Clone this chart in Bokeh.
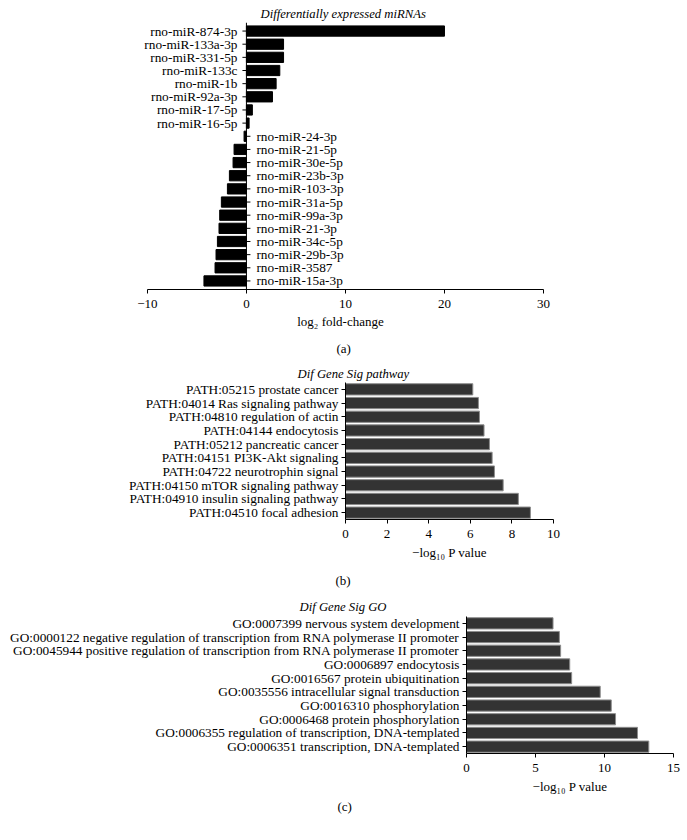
import numpy as np
from bokeh.plotting import figure
from bokeh.models import Range1d, FactorRange, FixedTicker, Span, Title
from bokeh.core.properties import value
from bokeh.embed import file_html
from bokeh.resources import INLINE

# ---------------- data ----------------
mirnas = ["rno-miR-874-3p", "rno-miR-133a-3p", "rno-miR-331-5p", "rno-miR-133c",
          "rno-miR-1b", "rno-miR-92a-3p", "rno-miR-17-5p", "rno-miR-16-5p",
          "rno-miR-24-3p", "rno-miR-21-5p", "rno-miR-30e-5p", "rno-miR-23b-3p",
          "rno-miR-103-3p", "rno-miR-31a-5p", "rno-miR-99a-3p", "rno-miR-21-3p",
          "rno-miR-34c-5p", "rno-miR-29b-3p", "rno-miR-3587", "rno-miR-15a-3p"]
fold_change = [20.0, 3.75, 3.75, 3.37, 3.0, 2.63, 0.6, 0.27,
               -0.24, -1.25, -1.35, -1.72, -1.92, -2.53, -2.7, -2.77,
               -2.93, -3.07, -3.17, -4.29]
fc_ticks = [-10, 0, 10, 20, 30]

pathways = ["PATH:05215 prostate cancer", "PATH:04014 Ras signaling pathway",
            "PATH:04810 regulation of actin", "PATH:04144 endocytosis",
            "PATH:05212 pancreatic cancer", "PATH:04151 PI3K-Akt signaling",
            "PATH:04722 neurotrophin signal", "PATH:04150 mTOR signaling pathway",
            "PATH:04910 insulin signaling pathway", "PATH:04510 focal adhesion"]
pathway_logp = [6.12, 6.39, 6.44, 6.66, 6.92, 7.05, 7.16, 7.58, 8.31, 8.89]
pathway_ticks = [0, 2, 4, 6, 8, 10]

go_terms = ["GO:0007399 nervous system development",
            "GO:0000122 negative regulation of transcription from RNA polymerase II promoter",
            "GO:0045944 positive regulation of transcription from RNA polymerase II promoter",
            "GO:0006897 endocytosis",
            "GO:0016567 protein ubiquitination",
            "GO:0035556 intracellular signal transduction",
            "GO:0016310 phosphorylation",
            "GO:0006468 protein phosphorylation",
            "GO:0006355 regulation of transcription, DNA-templated",
            "GO:0006351 transcription, DNA-templated"]
go_logp = [6.27, 6.73, 6.82, 7.48, 7.62, 9.69, 10.49, 10.80, 12.39, 13.21]
go_ticks = [0, 5, 10, 15]

FONT = "Liberation Serif"
FS = "13px"
LFS = "13.3px"
TFS = "12.7px"


def style_xaxis(p, ticks, label_standoff):
    ax = p.xaxis[0]
    ax.ticker = FixedTicker(ticks=ticks)
    ax.major_label_overrides = {t: ("\u2212" + str(-t) if t < 0 else str(t)) for t in ticks}
    ax.axis_line_color = "black"
    ax.major_tick_line_color = "black"
    ax.minor_tick_line_color = None
    ax.major_tick_in = 0
    ax.major_tick_out = 4
    ax.major_label_text_font = FONT
    ax.major_label_text_font_size = FS
    ax.major_label_text_color = "black"
    ax.major_label_standoff = 6
    ax.axis_label_text_font = FONT
    ax.axis_label_text_font_size = FS
    ax.axis_label_text_font_style = "normal"
    ax.axis_label_text_color = "black"
    ax.axis_label_standoff = label_standoff


def add_titles(p, top, bottom, top_off, bot_off, top_standoff, bot_standoff):
    p.add_layout(Title(text=top, align="left", offset=top_off, text_font=FONT,
                       text_font_size=TFS, text_font_style="italic",
                       text_color="black", standoff=top_standoff), "above")
    p.add_layout(Title(text=bottom, align="left", offset=bot_off, text_font=FONT,
                       text_font_size=FS, text_font_style="normal",
                       text_color="black", standoff=bot_standoff), "below")


def base(p):
    p.xgrid.visible = False
    p.ygrid.visible = False
    p.outline_line_color = None
    p.background_fill_color = "white"
    p.border_fill_color = "white"


# ---------------- (a) ----------------
pa = figure(width=687, height=362, title=None,
            y_range=FactorRange(factors=mirnas[::-1], range_padding=0.015),
            x_range=Range1d(-11, 30),
            output_backend="svg", toolbar_location=None,
            min_border_left=137, min_border_right=144,
            min_border_top=22, min_border_bottom=72)
base(pa)
pa.hbar(y=mirnas, left=0, right=fold_change, height=0.78,
        fill_color="black", line_color="black")
pa.add_layout(Span(location=0, dimension="height", line_color="black", line_width=1))
pos = [m for m, v in zip(mirnas, fold_change) if v > 0]
neg = [m for m, v in zip(mirnas, fold_change) if v <= 0]
pa.ray(x=0, y=pos, length=4, length_units="screen", angle=np.pi, line_color="black")
pa.ray(x=0, y=neg, length=4, length_units="screen", angle=0, line_color="black")
pa.text(x=0, y=pos, text=pos, x_offset=-9, text_align="right", text_baseline="middle",
        text_font=value(FONT), text_font_size=LFS, text_color="black")
pa.text(x=0, y=neg, text=neg, x_offset=10, text_align="left", text_baseline="middle",
        text_font=value(FONT), text_font_size=LFS, text_color="black")
pa.yaxis.visible = False
style_xaxis(pa, fc_ticks, 3)
pa.xaxis[0].bounds = (-10, 30)
pa.xaxis[0].axis_label = "log\u2082 fold-change"
add_titles(pa, "Differentially expressed miRNAs", "(a)", 123, 199, 3, 14)


def enrich_fig(names, vals, ticks, xmax, h, left, right, top, bottom):
    p = figure(width=687, height=h, title=None,
               y_range=FactorRange(factors=names[::-1]),
               x_range=Range1d(0, xmax),
               output_backend="svg", toolbar_location=None,
               min_border_left=left, min_border_right=right,
               min_border_top=top, min_border_bottom=bottom)
    base(p)
    p.hbar(y=names, left=0, right=vals, height=0.82,
           fill_color="#333333", line_color="#8c8c8c", line_width=1)
    style_xaxis(p, ticks, 4)
    p.xaxis[0].axis_label = "\u2212log\u2081\u2080 P value"
    ay = p.yaxis[0]
    ay.axis_line_color = "black"
    ay.major_tick_line_color = "black"
    ay.major_tick_in = 0
    ay.major_tick_out = 4
    ay.major_label_text_font = FONT
    ay.major_label_text_font_size = LFS
    ay.major_label_text_color = "black"
    ay.major_label_standoff = 3
    return p


# ---------------- (b) ----------------
pb = enrich_fig(pathways, pathway_logp, pathway_ticks, 10, 233, 345, 134, 20, 74)
add_titles(pb, "Dif Gene Sig pathway", "(b)", -48, -10, 4, 16)

# ---------------- (c) ----------------
pc = enrich_fig(go_terms, go_logp, go_ticks, 15, 245, 466, 14, 20, 87)
add_titles(pc, "Dif Gene Sig GO", "(c)", -167, -129, 5, 0)

open("out.html", "w").write(file_html([pa, pb, pc], INLINE))
